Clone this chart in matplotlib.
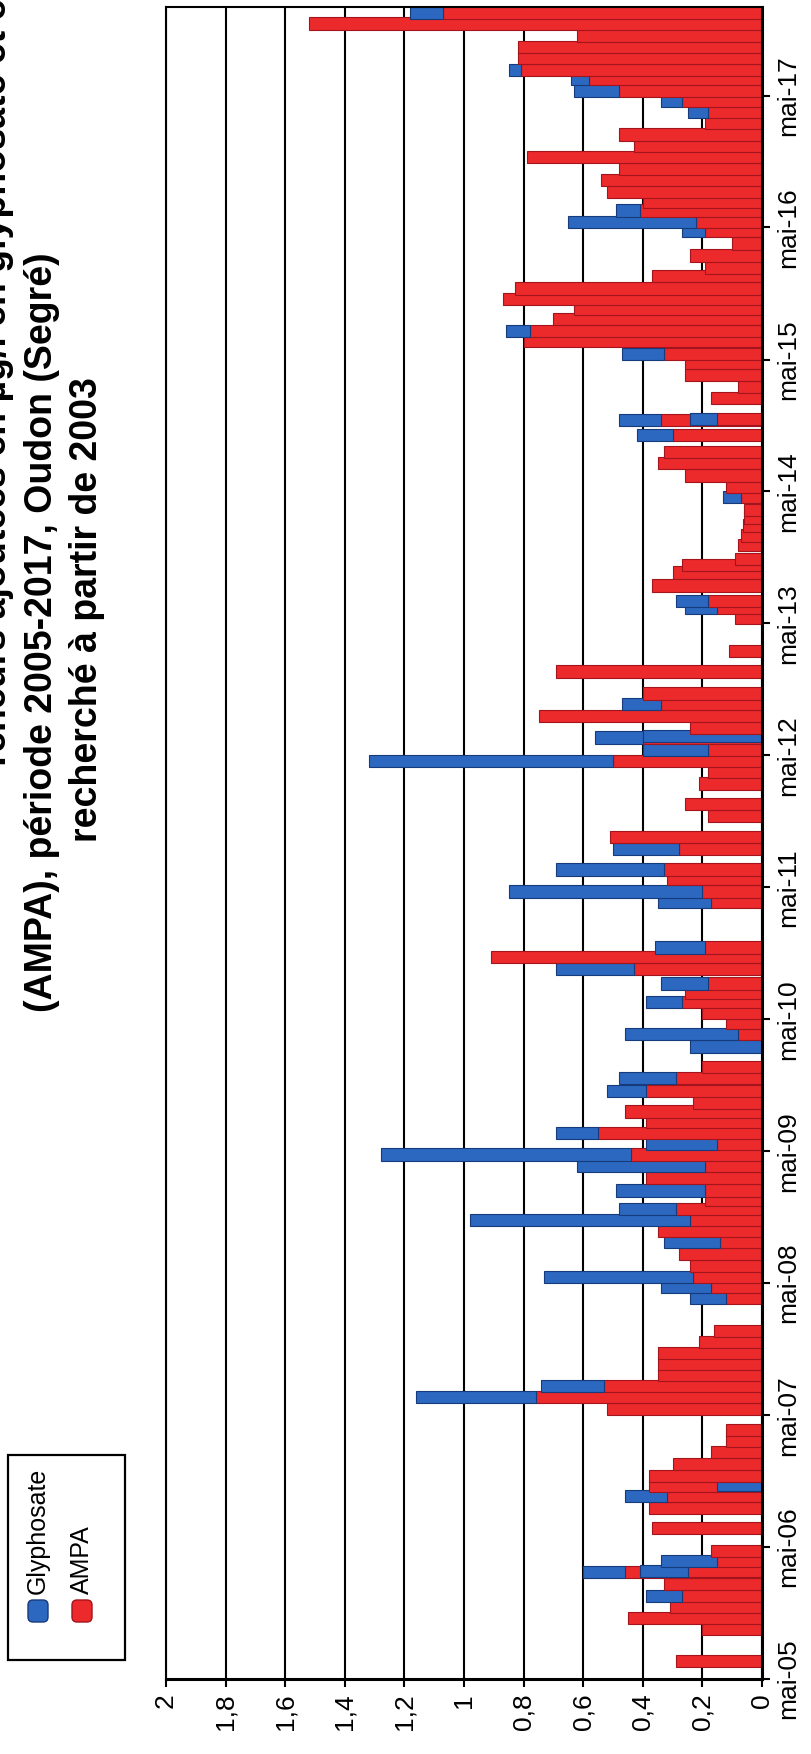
import matplotlib
matplotlib.use("Agg")
import matplotlib.pyplot as plt
import matplotlib.dates as mdates
from matplotlib.patches import Rectangle, FancyBboxPatch
import numpy as np
import datetime as dt

plt.rcParams['font.family'] = ['Liberation Sans', 'DejaVu Sans']

# dates des prélèvements
dates = ["2005-06-20", "2005-09-16", "2005-10-17", "2005-11-16", "2005-12-17",
         "2006-01-19", "2006-02-21", "2006-02-23", "2006-03-24", "2006-04-20",
         "2006-06-23", "2006-08-17", "2006-09-19", "2006-10-17", "2006-10-20",
         "2006-11-14", "2006-12-17", "2007-01-19", "2007-02-19", "2007-03-21",
         "2007-05-18", "2007-06-20", "2007-07-21", "2007-08-20", "2007-09-20",
         "2007-10-20", "2007-11-19", "2007-12-20", "2008-03-20", "2008-04-20",
         "2008-05-17", "2008-06-17", "2008-07-20", "2008-08-22", "2008-09-22",
         "2008-10-22", "2008-11-21", "2008-12-17", "2009-01-12", "2009-02-15",
         "2009-03-20", "2009-04-22", "2009-05-20", "2009-06-20", "2009-07-20",
         "2009-08-19", "2009-09-13", "2009-10-14", "2009-11-19", "2009-12-19",
         "2010-02-15", "2010-03-21", "2010-04-20", "2010-05-18", "2010-06-17",
         "2010-07-12", "2010-08-08", "2010-09-17", "2010-10-20", "2010-11-16",
         "2011-03-21", "2011-04-20", "2011-05-24", "2011-06-20", "2011-08-15",
         "2011-09-17", "2011-11-14", "2011-12-17", "2012-02-13", "2012-03-15",
         "2012-04-14", "2012-05-17", "2012-06-19", "2012-06-24", "2012-07-17",
         "2012-08-17", "2012-09-19", "2012-10-19", "2012-12-19", "2013-02-13",
         "2013-05-15", "2013-06-14", "2013-07-01", "2013-08-14", "2013-09-19",
         "2013-10-10", "2013-10-27", "2013-12-03", "2013-12-30", "2014-01-27",
         "2014-02-18", "2014-03-10", "2014-04-15", "2014-05-15", "2014-06-14",
         "2014-07-18", "2014-08-19", "2014-10-05", "2014-11-14", "2014-11-18",
         "2015-01-14", "2015-02-15", "2015-03-19", "2015-04-23", "2015-05-17",
         "2015-06-21", "2015-07-20", "2015-08-22", "2015-09-19", "2015-10-16",
         "2015-11-14", "2015-12-19", "2016-01-11", "2016-02-13", "2016-03-17",
         "2016-04-22", "2016-05-15", "2016-06-17", "2016-07-12", "2016-08-08",
         "2016-09-10", "2016-10-09", "2016-11-12", "2016-12-12", "2017-01-13",
         "2017-02-14", "2017-03-16", "2017-04-15", "2017-05-15", "2017-06-17",
         "2017-07-10", "2017-08-12", "2017-09-12", "2017-10-14", "2017-11-16",
         "2017-12-15"]

ampa = [0.29, 0.20, 0.45, 0.31, 0.27,
        0.33, 0.46, 0.25, 0.15, 0.17,
        0.37, 0.38, 0.32, 0.38, 0.00,
        0.38, 0.30, 0.17, 0.12, 0.12,
        0.52, 0.76, 0.53, 0.35, 0.35,
        0.35, 0.21, 0.16, 0.12, 0.17,
        0.23, 0.24, 0.28, 0.14, 0.35,
        0.24, 0.29, 0.19, 0.19, 0.39,
        0.19, 0.44, 0.15, 0.55, 0.39,
        0.46, 0.23, 0.39, 0.29, 0.20,
        0.00, 0.08, 0.12, 0.20, 0.27,
        0.26, 0.18, 0.43, 0.91, 0.19,
        0.17, 0.20, 0.32, 0.33, 0.28,
        0.51, 0.18, 0.26, 0.21, 0.18,
        0.50, 0.18, 0.40, 0.00, 0.24,
        0.75, 0.34, 0.40, 0.69, 0.11,
        0.09, 0.15, 0.18, 0.37, 0.30,
        0.27, 0.09, 0.08, 0.07, 0.065,
        0.06, 0.06, 0.07, 0.12, 0.26,
        0.35, 0.33, 0.30, 0.34, 0.15,
        0.17, 0.08, 0.26, 0.26, 0.33,
        0.80, 0.78, 0.70, 0.63, 0.87,
        0.83, 0.37, 0.19, 0.24, 0.10,
        0.19, 0.22, 0.41, 0.40, 0.52,
        0.54, 0.48, 0.79, 0.43, 0.48,
        0.19, 0.18, 0.27, 0.48, 0.58,
        0.81, 0.82, 0.82, 0.62, 1.52,
        1.07]

glyphosate = [0, 0, 0, 0, 0.12,
              0, 0.14, 0.16, 0.19, 0,
              0, 0, 0.14, 0, 0.15,
              0, 0, 0, 0, 0,
              0, 0.40, 0.21, 0, 0,
              0, 0, 0, 0.12, 0.17,
              0.50, 0, 0, 0.19, 0,
              0.74, 0.19, 0, 0.30, 0,
              0.43, 0.84, 0.24, 0.14, 0,
              0, 0, 0.13, 0.19, 0,
              0.24, 0.38, 0, 0, 0.12,
              0, 0.16, 0.26, 0, 0.17,
              0.18, 0.65, 0, 0.36, 0.22,
              0, 0, 0, 0, 0,
              0.82, 0.22, 0.16, 0.40, 0,
              0, 0.13, 0, 0, 0,
              0, 0.11, 0.11, 0, 0,
              0, 0, 0, 0, 0,
              0, 0, 0.06, 0, 0,
              0, 0, 0.12, 0.14, 0.09,
              0, 0, 0, 0, 0.14,
              0, 0.08, 0, 0, 0,
              0, 0, 0, 0, 0,
              0.08, 0.43, 0.08, 0, 0,
              0, 0, 0, 0, 0,
              0, 0.07, 0.07, 0.15, 0.06,
              0.04, 0, 0, 0, 0,
              0.11]

value_ticks = [0, 0.2, 0.4, 0.6, 0.8, 1.0, 1.2, 1.4, 1.6, 1.8, 2.0]
value_labels = ["0", "0,2", "0,4", "0,6", "0,8", "1", "1,2", "1,4", "1,6", "1,8", "2"]
year_ticks = list(range(2005, 2018))
year_labels = ["mai-%02d" % (y % 100) for y in year_ticks]

title_lines = ["Teneurs ajoutées en µg/l en glyphosate et en sa molécule de dégradation",
               "(AMPA), période 2005-2017, Oudon (Segré)",
               "recherché à partir de 2003"]

RED, RED_E = "#ec2a2c", "#a3141c"
BLUE, BLUE_E = "#2c68c0", "#173a7a"

W, H = 811, 1754
fig = plt.figure(figsize=(W / 100, H / 100), dpi=100)

def fx(px):
    return px / W

def fy(py):
    return 1 - py / H

# axes : les valeurs vont de droite (0) a gauche (2), le temps monte
ax = fig.add_axes([fx(166), fy(1679), fx(762) - fx(166), fy(7) - fy(1679)])

d = mdates.date2num([dt.date.fromisoformat(s) for s in dates])
for i in range(len(d)):
    z = 3 + i * 0.01
    if ampa[i] > 0:
        ax.barh(d[i], ampa[i], height=34, left=0, color=RED, edgecolor=RED_E,
                linewidth=0.8, zorder=z)
    if glyphosate[i] > 0:
        ax.barh(d[i], glyphosate[i], height=34, left=ampa[i], color=BLUE,
                edgecolor=BLUE_E, linewidth=0.8, zorder=z + 0.005)

ax.set_xlim(2, 0)
ax.set_ylim(mdates.date2num(dt.date(2005, 5, 1)), mdates.date2num(dt.date(2018, 1, 1)))

ax.set_xticks(value_ticks)
ax.set_xticklabels(value_labels, rotation=90, fontsize=19)
ax.grid(axis="x", color="black", linewidth=1.5, zorder=1)
ax.set_axisbelow(True)

ax.yaxis.tick_right()
ax.set_yticks(mdates.date2num([dt.date(y, 5, 1) for y in year_ticks]))
ax.set_yticklabels(year_labels, rotation=90, va="center", fontsize=19)

ax.tick_params(axis="x", direction="out", length=6, width=1.5, pad=4)
ax.tick_params(axis="y", direction="out", length=6, width=1.5, pad=4)
for s in ax.spines.values():
    s.set_linewidth(1.5)
    s.set_zorder(10)
ax.spines["bottom"].set_linewidth(2.2)
ax.spines["right"].set_linewidth(2.2)

# titre (tourne, coupe a gauche comme sur le scan)
fig.text(fx(6), fy(772), title_lines[0], rotation=90, rotation_mode="anchor",
         ha="left", va="baseline", fontsize=27, fontweight="bold")
fig.text(fx(52), fy(632), title_lines[1], rotation=90, rotation_mode="anchor",
         ha="center", va="baseline", fontsize=27, fontweight="bold")
fig.text(fx(97), fy(610), title_lines[2], rotation=90, rotation_mode="anchor",
         ha="center", va="baseline", fontsize=27, fontweight="bold")

# legende dessinee a la main (texte tourne)
fig.patches.append(Rectangle((fx(8), fy(1660)), fx(125) - fx(8), (1660 - 1455) / H,
                             transform=fig.transFigure, fill=False,
                             edgecolor="black", linewidth=1.6))
for col, lab, fc, ec in [(38, "Glyphosate", BLUE, BLUE_E), (82, "AMPA", RED, RED_E)]:
    fig.patches.append(FancyBboxPatch(((col - 10) / 100, (H - 1622) / 100), 0.2, 0.22,
                                      boxstyle="round,pad=0,rounding_size=0.05",
                                      transform=fig.dpi_scale_trans,
                                      facecolor=fc, edgecolor=ec, linewidth=1))
    fig.text(fx(col), fy(1594), lab, rotation=90, rotation_mode="anchor",
             ha="left", va="center", fontsize=18)

fig.savefig("out.png", dpi=100)
